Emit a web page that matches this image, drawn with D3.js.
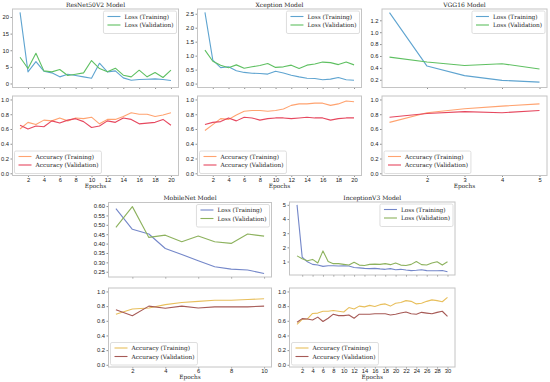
<!DOCTYPE html>
<html>
<head>
<meta charset="utf-8">
<script src="https://cdn.jsdelivr.net/npm/d3@7"></script>
<style>
    body { margin: 0; background: #fff; }
    svg { display: block; font-family: "DejaVu Serif", serif; }
    .frame { fill: none; stroke: #c4c4c4; stroke-width: 1; }
    .tick line { stroke: #444; }
    .tick text { fill: #222; font-size: 5.8px; }
    .domain { display: none; }
    .title { fill: #222; font-size: 6px; text-anchor: middle; }
    .axis-title { fill: #222; font-size: 5.8px; text-anchor: middle; }
    .legend-box { fill: #fff; fill-opacity: 0.85; stroke: #d6d6d6; stroke-width: 0.8; }
    .legend-text { fill: #222; font-size: 5.8px; }
</style>
</head>
<body>
<div id="chart"></div>
<script>

// ResNet50V2
let resnetLossTrain = [21.4, 3.5, 6.6, 3.7, 3.2, 2.0, 2.8, 2.4, 2.0, 1.6, 6.1, 3.5, 3.8, 1.7, 1.0, 1.2, 1.3, 1.4, 1.2, 0.9];
let resnetLossVal = [7.9, 4.5, 9.1, 3.8, 3.5, 4.2, 2.4, 2.8, 3.2, 6.9, 4.5, 3.5, 4.6, 2.5, 2.0, 4.0, 2.0, 3.3, 1.8, 4.0];
let resnetAccTrain = [0.60, 0.69, 0.66, 0.72, 0.71, 0.75, 0.71, 0.75, 0.74, 0.76, 0.67, 0.73, 0.73, 0.77, 0.82, 0.80, 0.80, 0.77, 0.79, 0.82];
let resnetAccVal = [0.65, 0.60, 0.64, 0.63, 0.71, 0.68, 0.72, 0.74, 0.70, 0.62, 0.64, 0.71, 0.69, 0.75, 0.73, 0.67, 0.68, 0.69, 0.73, 0.65];

// Xception
let xceptionLossTrain = [2.55, 0.84, 0.57, 0.60, 0.46, 0.40, 0.37, 0.36, 0.34, 0.44, 0.38, 0.30, 0.24, 0.19, 0.18, 0.14, 0.16, 0.22, 0.14, 0.12];
let xceptionLossVal = [1.20, 0.80, 0.66, 0.57, 0.67, 0.55, 0.60, 0.65, 0.72, 0.58, 0.60, 0.66, 0.54, 0.66, 0.70, 0.77, 0.75, 0.68, 0.77, 0.67];
let xceptionAccTrain = [0.58, 0.66, 0.74, 0.73, 0.79, 0.84, 0.85, 0.85, 0.84, 0.85, 0.87, 0.92, 0.94, 0.94, 0.95, 0.95, 0.92, 0.94, 0.98, 0.97];
let xceptionAccVal = [0.66, 0.69, 0.70, 0.75, 0.71, 0.76, 0.75, 0.72, 0.74, 0.75, 0.75, 0.74, 0.75, 0.76, 0.75, 0.75, 0.72, 0.74, 0.75, 0.75];

// VGG16
let vggLossTrain = [1.33, 0.43, 0.27, 0.19, 0.16];
let vggLossVal = [0.58, 0.50, 0.44, 0.47, 0.38];
let vggAccTrain = [0.69, 0.82, 0.875, 0.91, 0.94];
let vggAccVal = [0.76, 0.81, 0.835, 0.82, 0.85];

// MobileNet
let mobileLossTrain = [0.586, 0.476, 0.451, 0.374, 0.342, 0.309, 0.277, 0.264, 0.259, 0.241];
let mobileLossVal = [0.486, 0.597, 0.433, 0.445, 0.410, 0.440, 0.410, 0.401, 0.451, 0.440];
let mobileAccTrain = [0.69, 0.76, 0.775, 0.82, 0.85, 0.865, 0.88, 0.88, 0.89, 0.90];
let mobileAccVal = [0.75, 0.67, 0.80, 0.77, 0.80, 0.775, 0.79, 0.79, 0.79, 0.80];

// InceptionV3
let inceptionLossTrain = [5.0, 1.3, 0.98, 0.8, 0.75, 0.66, 0.7, 0.7, 0.68, 0.7, 0.68, 0.58, 0.55, 0.52, 0.5, 0.52, 0.48, 0.45, 0.5, 0.42,
    0.45, 0.4, 0.36, 0.38, 0.42, 0.36, 0.35, 0.35, 0.37, 0.28];
let inceptionLossVal = [1.4, 1.2, 1.05, 1.15, 0.9, 1.75, 1.0, 0.85, 0.85, 0.8, 0.75, 0.95, 0.75, 0.72, 0.8, 0.82, 0.8, 0.85, 0.78, 0.9,
    0.75, 0.72, 0.8, 1.0, 0.78, 0.76, 0.9, 0.98, 0.75, 0.98];
let inceptionAccTrain = [0.55, 0.62, 0.625, 0.70, 0.705, 0.73, 0.73, 0.74, 0.73, 0.72, 0.78, 0.76, 0.80, 0.79, 0.81, 0.795, 0.82, 0.83, 0.80, 0.84,
    0.85, 0.875, 0.865, 0.83, 0.84, 0.865, 0.885, 0.875, 0.86, 0.92];
let inceptionAccVal = [0.58, 0.63, 0.625, 0.61, 0.65, 0.59, 0.635, 0.69, 0.67, 0.67, 0.68, 0.635, 0.69, 0.69, 0.69, 0.695, 0.695, 0.695, 0.68, 0.69,
    0.705, 0.72, 0.695, 0.69, 0.715, 0.705, 0.695, 0.715, 0.73, 0.66];

// tick values
let resnetXTicks = [2, 4, 6, 8, 10, 12, 14, 16, 18, 20];
let xceptionXTicks = [2, 4, 6, 8, 10, 12, 14, 16, 18, 20];
let vggXTicks = [2, 3, 4, 5];
let mobileXTicks = [2, 4, 6, 8, 10];
let inceptionXTicks = [2, 4, 6, 8, 10, 12, 14, 16, 18, 20, 22, 24, 26, 28, 30];
let resnetLossTicks = [0, 5, 10, 15, 20];
let xceptionLossTicks = [0.0, 0.5, 1.0, 1.5, 2.0, 2.5];
let vggLossTicks = [0.2, 0.4, 0.6, 0.8, 1.0, 1.2];
let mobileLossTicks = [0.25, 0.30, 0.35, 0.40, 0.45, 0.50, 0.55, 0.60];
let inceptionLossTicks = [1, 2, 3, 4, 5];
let accTicks = [0.0, 0.2, 0.4, 0.6, 0.8, 1.0];

let lossLabels = ["Loss (Training)", "Loss (Validation)"];
let accLabels = ["Accuracy (Training)", "Accuracy (Validation)"];

// colour sets
let topColors = {lossTr: "#5fa4d0", lossVa: "#5fc062", accTr: "#ffa370", accVa: "#e6485f"};
let bottomColors = {lossTr: "#7487c9", lossVa: "#8db25e", accTr: "#e8bf5c", accVa: "#a65a56"};

let models = [
    {title: "ResNet50V2 Model", left: 12.5, right: 178.5, lossTop: 9, lossBot: 87.5, accTop: 96, accBot: 175.5,
        lossTr: resnetLossTrain, lossVa: resnetLossVal, accTr: resnetAccTrain, accVa: resnetAccVal,
        xTicks: resnetXTicks, lossTicks: resnetLossTicks, lossFmt: d3.format("d"), lossDomain: [-1.2, 22.4], colors: topColors},
    {title: "Xception Model", left: 197.5, right: 361.5, lossTop: 9, lossBot: 87.5, accTop: 96, accBot: 175.5,
        lossTr: xceptionLossTrain, lossVa: xceptionLossVal, accTr: xceptionAccTrain, accVa: xceptionAccVal,
        xTicks: xceptionXTicks, lossTicks: xceptionLossTicks, lossFmt: d3.format(".1f"), lossDomain: [-0.14, 2.67], colors: topColors},
    {title: "VGG16 Model", left: 382, right: 547, lossTop: 9, lossBot: 87.5, accTop: 96, accBot: 175.5,
        lossTr: vggLossTrain, lossVa: vggLossVal, accTr: vggAccTrain, accVa: vggAccVal,
        xTicks: vggXTicks, lossTicks: vggLossTicks, lossFmt: d3.format(".1f"), lossDomain: [0.07, 1.39], colors: topColors},
    {title: "MobileNet Model", left: 108.5, right: 271.5, lossTop: 202.5, lossBot: 277, accTop: 288, accBot: 367,
        lossTr: mobileLossTrain, lossVa: mobileLossVal, accTr: mobileAccTrain, accVa: mobileAccVal,
        xTicks: mobileXTicks, lossTicks: mobileLossTicks, lossFmt: d3.format(".2f"), lossDomain: [0.222, 0.619], colors: bottomColors},
    {title: "InceptionV3 Model", left: 289.5, right: 455, lossTop: 202, lossBot: 275, accTop: 288, accBot: 367,
        lossTr: inceptionLossTrain, lossVa: inceptionLossVal, accTr: inceptionAccTrain, accVa: inceptionAccVal,
        xTicks: inceptionXTicks, lossTicks: inceptionLossTicks, lossFmt: d3.format("d"), lossDomain: [0.05, 5.2], colors: bottomColors}
];

let svg = d3.select("#chart").append("svg")
    .attr("width", 550)
    .attr("height", 382);

models.forEach(m => drawModel(m));

function drawModel(m) {

    let n = m.lossTr.length;
    let epochs = d3.range(1, n + 1);
    let pad = (n - 1) * 0.05;

    let x = d3.scaleLinear()
        .domain([1 - pad, n + pad])
        .range([m.left, m.right]);

    // Loss panel
    let yLoss = d3.scaleLinear()
        .domain(m.lossDomain)
        .range([m.lossBot, m.lossTop]);

    drawPanel(x, yLoss, epochs, [m.lossTr, m.lossVa], [m.colors.lossTr, m.colors.lossVa], lossLabels,
        m.xTicks, m.lossTicks, m.lossFmt, false, "upper right");

    svg.append("text")
        .attr("class", "title")
        .attr("x", (m.left + m.right) / 2)
        .attr("y", m.lossTop - 2.5)
        .text(m.title);

    // Accuracy panel
    let yAcc = d3.scaleLinear()
        .domain([-0.03, 1.047])
        .range([m.accBot, m.accTop]);

    drawPanel(x, yAcc, epochs, [m.accTr, m.accVa], [m.colors.accTr, m.colors.accVa], accLabels,
        m.xTicks, accTicks, d3.format(".1f"), true, "lower left");

    svg.append("text")
        .attr("class", "axis-title")
        .attr("x", (m.left + m.right) / 2)
        .attr("y", m.accBot + 12)
        .text("Epochs");
}

function drawPanel(x, y, epochs, series, colors, labels, xTicks, yTicks, yFmt, showX, legendLoc) {

    let g = svg.append("g");
    let [x0, x1] = x.range();
    let [y1, y0] = y.range();

    // x axis
    let xAxis = d3.axisBottom(x)
        .tickValues(xTicks)
        .tickSize(1.5)
        .tickPadding(0.5)
        .tickFormat(showX ? d3.format("d") : "");

    g.append("g")
        .attr("class", "axis x-axis")
        .attr("transform", "translate(0," + y1 + ")")
        .call(xAxis);

    // y axis
    let yAxis = d3.axisLeft(y)
        .tickValues(yTicks)
        .tickSize(2)
        .tickPadding(1.5)
        .tickFormat(yFmt);

    g.append("g")
        .attr("class", "axis y-axis")
        .attr("transform", "translate(" + x0 + ",0)")
        .call(yAxis);

    g.selectAll(".tick line").attr("stroke-width", 0.6);

    // lines
    let line = d3.line()
        .x((d, i) => x(epochs[i]))
        .y(d => y(d));

    series.forEach((s, i) => {
        g.append("path")
            .datum(s)
            .attr("fill", "none")
            .attr("stroke", colors[i])
            .attr("stroke-width", 1.1)
            .attr("stroke-linejoin", "round")
            .attr("d", line);
    });

    // frame
    g.append("rect")
        .attr("class", "frame")
        .attr("x", x0)
        .attr("y", y0)
        .attr("width", x1 - x0)
        .attr("height", y1 - y0);

    // legend
    let lg = g.append("g");
    let box = lg.append("rect").attr("class", "legend-box").attr("rx", 1.5);
    let rowH = 8.5;
    let widths = [];
    labels.forEach((lab, i) => {
        lg.append("line")
            .attr("x1", 4).attr("x2", 17)
            .attr("y1", 5.5 + i * rowH).attr("y2", 5.5 + i * rowH)
            .attr("stroke", colors[i])
            .attr("stroke-width", 1.1);
        let t = lg.append("text")
            .attr("class", "legend-text")
            .attr("x", 21)
            .attr("y", 7.5 + i * rowH)
            .text(lab);
        widths.push(t.node().getComputedTextLength());
    });
    let bw = 21 + d3.max(widths) + 3;
    let bh = 4 * 2 - 1 + rowH * labels.length - 1.5;
    box.attr("width", bw).attr("height", bh);

    let lx = legendLoc === "upper right" ? x1 - 2 - bw : x0 + 2;
    let ly = legendLoc === "upper right" ? y0 + 2 : y1 - 2 - bh;
    lg.attr("transform", "translate(" + lx + "," + ly + ")");
}

</script>
</body>
</html>
